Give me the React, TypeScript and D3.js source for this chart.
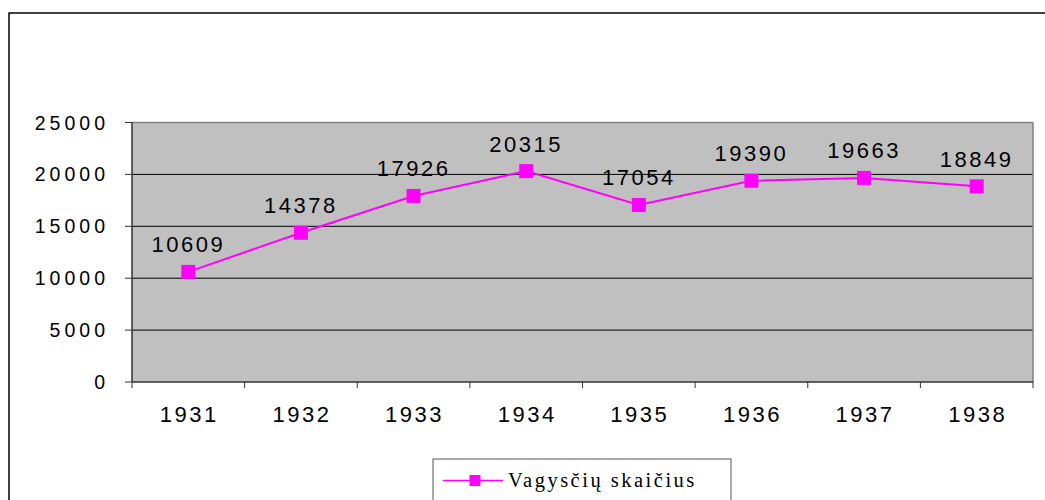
import React from "react";
import * as d3 from "d3";

const years = ["1931", "1932", "1933", "1934", "1935", "1936", "1937", "1938"];
const thefts = [10609, 14378, 17926, 20315, 17054, 19390, 19663, 18849];
const yTicks = [0, 5000, 10000, 15000, 20000, 25000];
const seriesName = "Vagysčių skaičius";

export default function App() {
  const W = 1045, H = 500;
  const left = 132, right = 1033, top = 122.5, bottom = 382;
  const x = d3.scaleBand<string>().domain(years).range([left, right]);
  const y = d3.scaleLinear().domain([0, 25000]).range([bottom, top]);
  const line = d3.line<number>()
    .x((_, i) => (x(years[i]) as number) + x.bandwidth() / 2)
    .y((d) => y(d));
  const sans = "'Liberation Sans', Arial, sans-serif";
  const serif = "'Liberation Serif', 'Times New Roman', serif";
  const mag = "#ff00ff";
  return (
    <svg width={W} height={H} style={{ position: "absolute", left: 0, top: 0, background: "#fff" }}>
      <rect x={9} y={13} width={1100} height={600} fill="#fff" stroke="#000" strokeWidth={1.5} />
      <rect x={left} y={top} width={right - left} height={bottom - top} fill="#c0c0c0" />
      {yTicks.filter((t) => t > 0 && t < 25000).map((t) => (
        <line key={t} x1={left} x2={right} y1={y(t)} y2={y(t)} stroke="#000" strokeWidth={1} />
      ))}
      <line x1={left} x2={right} y1={top} y2={top} stroke="#808080" strokeWidth={1.5} />
      <line x1={right} x2={right} y1={top} y2={bottom} stroke="#808080" strokeWidth={1.5} />
      <line x1={left} x2={left} y1={top} y2={bottom} stroke="#333" strokeWidth={1.5} />
      <line x1={left} x2={right} y1={bottom} y2={bottom} stroke="#333" strokeWidth={1.5} />
      {yTicks.map((t) => (
        <g key={t}>
          <line x1={left - 7} x2={left} y1={y(t)} y2={y(t)} stroke="#333" strokeWidth={1} />
          <text x={109} y={y(t)} dy="0.36em" textAnchor="end" fontFamily={sans} fontSize={19.5} letterSpacing={4} fill="#000">
            {t}
          </text>
        </g>
      ))}
      {years.map((yr, i) => (
        <line key={"t" + i} x1={(x(yr) as number)} x2={(x(yr) as number)} y1={bottom} y2={bottom + 6} stroke="#333" strokeWidth={1} />
      ))}
      <line x1={right} x2={right} y1={bottom} y2={bottom + 6} stroke="#333" strokeWidth={1} />
      {years.map((yr) => (
        <text key={"l" + yr} x={(x(yr) as number) + x.bandwidth() / 2 + 1} y={422} textAnchor="middle" fontFamily={sans} fontSize={22} letterSpacing={2.5} fill="#000">
          {yr}
        </text>
      ))}
      <path d={line(thefts) || ""} fill="none" stroke={mag} strokeWidth={2} />
      {thefts.map((v, i) => {
        const cx = (x(years[i]) as number) + x.bandwidth() / 2;
        return (
          <g key={"p" + i}>
            <rect x={cx - 7} y={y(v) - 7} width={14} height={14} fill={mag} />
            <text x={cx} y={y(v) - 19.5} textAnchor="middle" fontFamily={sans} fontSize={22} letterSpacing={2.5} fill="#000">
              {v}
            </text>
          </g>
        );
      })}
      <rect x={433} y={459} width={298} height={60} fill="#fff" stroke="#555" strokeWidth={1} />
      <line x1={443} x2={503} y1={480.5} y2={480.5} stroke={mag} strokeWidth={1.5} />
      <rect x={469.5} y={475} width={11} height={11} fill={mag} />
      <text x={508} y={487} fontFamily={serif} fontSize={20.5} letterSpacing={2.5} fill="#000">
        {seriesName}
      </text>
    </svg>
  );
}
